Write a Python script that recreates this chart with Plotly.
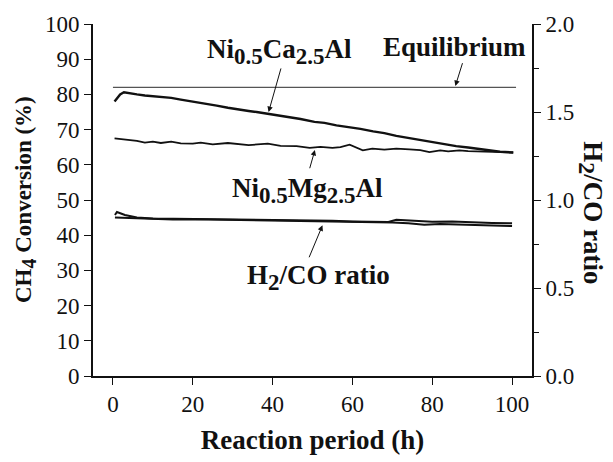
import plotly.graph_objects as go

# ---- data ----
ca_time = [0.4, 1.0, 1.8, 2.75, 4, 6, 8, 10, 12, 14.6, 17, 20, 23, 26, 28.8, 31, 34, 36, 38.8, 41, 44, 47, 50.5,
           53, 56, 59, 62, 65.2, 68, 71, 74, 77, 80.2, 83, 86, 89, 91.1, 94, 97, 100.3]
ca_conv = [78.0, 79.0, 80.0, 80.6, 80.3, 80.0, 79.7, 79.5, 79.3, 79.0, 78.5, 78.0, 77.5, 76.8, 76.2, 75.9, 75.3, 75.0,
           74.5, 74.2, 73.5, 73.0, 72.2, 71.9, 71.2, 70.8, 70.2, 69.5, 69.0, 68.2, 67.6, 67.0, 66.4, 65.9, 65.3, 64.9,
           64.6, 64.1, 63.7, 63.5]

mg_time = [0.4, 2, 4, 6, 8, 10, 12, 14.6, 17, 20, 22, 25, 28.8, 31, 34, 38.8, 42, 46, 49.3, 52, 55, 57, 59.3, 62.6,
           65, 68, 71, 74.3, 77, 79.3, 82, 84, 86.8, 89, 92, 94.3, 97, 100.3]
mg_conv = [67.5, 67.3, 67.0, 66.8, 66.3, 66.6, 66.2, 66.6, 66.1, 66.0, 66.3, 65.8, 66.2, 65.9, 65.6, 66.0, 65.4, 65.3,
           64.8, 65.1, 64.8, 65.0, 65.7, 64.1, 64.6, 64.3, 64.6, 64.4, 64.2, 63.6, 64.1, 63.8, 64.1, 63.9, 63.8, 63.8,
           63.6, 63.5]

h2co_time_a = [0.5, 1.0, 3, 6, 10, 15, 20, 25, 30, 35, 40, 45, 50, 55, 60, 65, 69, 71, 75, 80, 85, 90, 95, 100]
h2co_ratio_a = [0.915, 0.932, 0.915, 0.900, 0.895, 0.894, 0.892, 0.891, 0.890, 0.890, 0.889, 0.888, 0.887, 0.882,
                0.878, 0.876, 0.875, 0.888, 0.882, 0.876, 0.878, 0.873, 0.870, 0.868]
h2co_time_b = [0.5, 3, 5, 10, 15, 20, 25, 30, 35, 40, 45, 50, 55, 60, 65, 70, 74, 78, 82, 85, 90, 95, 100]
h2co_ratio_b = [0.900, 0.898, 0.895, 0.890, 0.889, 0.890, 0.888, 0.888, 0.886, 0.885, 0.884, 0.882, 0.878, 0.875,
                0.874, 0.872, 0.868, 0.860, 0.864, 0.862, 0.860, 0.856, 0.852]

equilibrium_time = [0, 101]
equilibrium_conv = [82.0, 82.0]

x_ticks = [0, 20, 40, 60, 80, 100]

FONT = "Times New Roman, Liberation Serif, serif"
BLACK = "#111111"


def sub(s, px=23):
    return "<sub><span style='font-size:%dpx'>%s</span></sub>" % (px, s)


fig = go.Figure()
fig.add_trace(go.Scatter(x=equilibrium_time, y=equilibrium_conv, mode="lines",
                         line=dict(color="#555555", width=1.2), showlegend=False))
fig.add_trace(go.Scatter(x=ca_time, y=ca_conv, mode="lines",
                         line=dict(color=BLACK, width=2.4), showlegend=False))
fig.add_trace(go.Scatter(x=mg_time, y=mg_conv, mode="lines",
                         line=dict(color=BLACK, width=1.8), showlegend=False))
fig.add_trace(go.Scatter(x=h2co_time_a, y=h2co_ratio_a, mode="lines", yaxis="y2",
                         line=dict(color=BLACK, width=2.0), showlegend=False))
fig.add_trace(go.Scatter(x=h2co_time_b, y=h2co_ratio_b, mode="lines", yaxis="y2",
                         line=dict(color=BLACK, width=2.0), showlegend=False))

axis_common = dict(showline=True, linecolor=BLACK, linewidth=1.6, showgrid=False, zeroline=False,
                   ticks="outside", ticklen=7, tickwidth=1.4, tickcolor=BLACK,
                   tickfont=dict(family=FONT, size=23, color=BLACK))

fig.update_layout(
    width=613, height=462,
    margin=dict(l=93, r=81, t=23, b=80),
    paper_bgcolor="white", plot_bgcolor="white",
    xaxis=dict(range=[-5, 105], tickvals=x_ticks, **axis_common,
               title=dict(text="Reaction period (h)", standoff=14,
                          font=dict(family=FONT, size=27, color=BLACK, weight="bold"))),
    yaxis=dict(range=[0, 100], dtick=10, **axis_common),
    yaxis2=dict(range=[0, 2], dtick=0.5, tickformat=".1f", overlaying="y", side="right",
                minor=dict(dtick=0.25, ticks="outside", ticklen=5, tickwidth=1.2, tickcolor=BLACK),
                **axis_common),
)

bold = dict(family=FONT, size=27, color=BLACK, weight="bold")
labels = [
    ("Ni" + sub("0.5") + "Ca" + sub("2.5") + "Al", 41.7, 92.2),
    ("Equilibrium", 85.5, 93.6),
    ("Ni" + sub("0.5") + "Mg" + sub("2.5") + "Al", 48.8, 52.8),
    ("H" + sub("2") + "/CO ratio", 51.5, 28.0),
]
for txt, x, y in labels:
    fig.add_annotation(text=txt, x=x, y=y, xref="x", yref="y", showarrow=False,
                       font=bold, xanchor="center", yanchor="middle")

arrows = [
    (39.0, 75.0, 42.2, 87.8),
    (85.8, 82.4, 87.7, 89.3),
    (50.6, 64.2, 49.2, 58.6),
    (52.5, 42.8, 49.0, 33.3),
]
for x, y, ax, ay in arrows:
    fig.add_annotation(text="", x=x, y=y, ax=ax, ay=ay, xref="x", yref="y", axref="x", ayref="y",
                       showarrow=True, arrowhead=2, arrowsize=1.1, arrowwidth=1, arrowcolor=BLACK,
                       standoff=0, startstandoff=0)

plot_w = 613 - 93 - 81
title_font = dict(family=FONT, size=23, color=BLACK, weight="bold")
fig.add_annotation(text="CH" + sub("4", 20) + " Conversion (%)", x=(25 - 93) / plot_w, y=0.5,
                   xref="paper", yref="paper", xanchor="center", yanchor="middle",
                   showarrow=False, textangle=-90, font=title_font)
fig.add_annotation(text="H" + sub("2", 24) + "/CO ratio", x=(591 - 93) / plot_w, y=0.465,
                   xref="paper", yref="paper", xanchor="center", yanchor="middle",
                   showarrow=False, textangle=90, font=dict(family=FONT, size=27, color=BLACK, weight="bold"))

fig.write_html("out.html")
